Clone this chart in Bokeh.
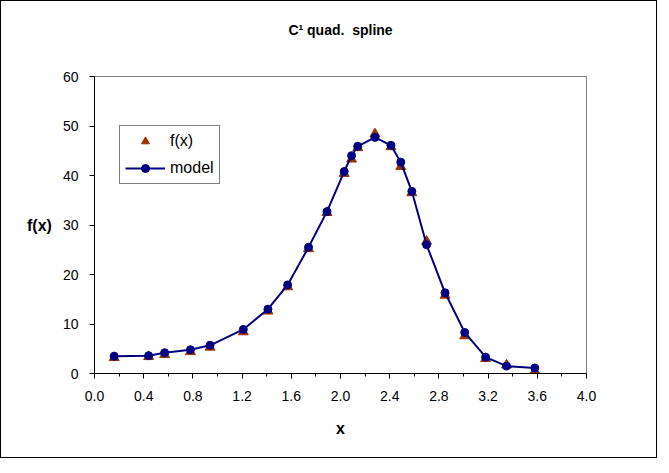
from bokeh.plotting import figure
from bokeh.models import Range1d, FixedTicker, Legend, LegendItem, Title
from bokeh.embed import file_html
from bokeh.resources import INLINE

# data
x_vals = [0.16, 0.44, 0.57, 0.78, 0.94, 1.21, 1.41, 1.57, 1.74, 1.89, 2.03, 2.09,
          2.14, 2.28, 2.41, 2.49, 2.58, 2.70, 2.85, 3.01, 3.18, 3.35, 3.58]
fx_vals = [3.2, 3.4, 3.8, 4.4, 5.3, 8.4, 12.6, 17.5, 25.2, 32.5, 40.4, 43.3,
           45.6, 48.4, 45.8, 41.8, 36.5, 26.7, 15.8, 7.6, 3.0, 1.7, 0.5]
model_vals = [3.5, 3.6, 4.2, 4.8, 5.7, 8.9, 13.0, 17.9, 25.5, 32.7, 40.8, 44.0,
              45.9, 47.7, 46.1, 42.7, 36.8, 26.0, 16.3, 8.3, 3.3, 1.5, 1.1]
x_major = [0.0, 0.4, 0.8, 1.2, 1.6, 2.0, 2.4, 2.8, 3.2, 3.6, 4.0]
x_minor = [0.2, 0.6, 1.0, 1.4, 1.8, 2.2, 2.6, 3.0, 3.4, 3.8]
y_major = [0, 10, 20, 30, 40, 50, 60]
title_text = "C\u00b9 quad.\u00a0 spline"

FONT = "Liberation Sans"

p = figure(width=657, height=458, output_backend="svg", toolbar_location=None,
           x_range=Range1d(0, 4), y_range=Range1d(0, 60),
           min_border_left=93, min_border_right=72, min_border_top=75, min_border_bottom=86)
p.styles = {"border": "1px solid black"}
p.background_fill_color = "white"
p.border_fill_color = "white"
p.outline_line_color = "#808080"
p.outline_line_width = 1
p.grid.visible = False

# invisible spacer keeps the title well above the plot area
spacer = Title(text="\u00a0", text_font_size="20px", text_color="white")
p.add_layout(spacer, "above")
title = Title(text=title_text, align="center", text_font=FONT,
              text_font_size="14px", text_font_style="bold", text_color="black")
p.add_layout(title, "above")

xa = p.xaxis[0]
xa.ticker = FixedTicker(ticks=x_major, minor_ticks=x_minor)
xa.major_label_overrides = {v: f"{v:.1f}" for v in x_major}
xa.axis_label = "x"
ya = p.yaxis[0]
ya.ticker = FixedTicker(ticks=y_major)
ya.axis_label = "f(x)"
ya.axis_label_orientation = "horizontal"

for ax in (xa, ya):
    ax.axis_line_color = "black"
    ax.major_tick_line_color = "black"
    ax.minor_tick_line_color = "black"
    ax.major_tick_in = 0
    ax.major_tick_out = 5
    ax.minor_tick_in = 0
    ax.minor_tick_out = 3
    ax.major_label_text_font = FONT
    ax.major_label_text_font_size = "14px"
    ax.major_label_text_color = "black"
    ax.axis_label_text_font = FONT
    ax.axis_label_text_font_size = "16px"
    ax.axis_label_text_font_style = "bold"
    ax.axis_label_text_color = "black"
ya.minor_tick_line_color = None
xa.major_label_standoff = 12
xa.axis_label_standoff = 16
ya.major_label_standoff = 11
ya.axis_label_standoff = 8

tri = p.scatter(x_vals, fx_vals, marker="triangle", size=10, fill_color="#993300",
                line_color="#993300")
ln = p.line(x_vals, model_vals, line_color="#000080", line_width=2)
dots = p.scatter(x_vals, model_vals, marker="circle", size=8, fill_color="#000080",
                 line_color="#000080")

legend = Legend(items=[LegendItem(label="f(x)", renderers=[tri]),
                       LegendItem(label="model", renderers=[ln, dots])],
                location=(25, 189), orientation="vertical")
legend.label_text_font = FONT
legend.label_text_font_size = "16px"
legend.label_text_color = "black"
legend.border_line_color = "black"
legend.border_line_width = 1
legend.background_fill_color = "white"
legend.background_fill_alpha = 1
legend.glyph_width = 40
legend.glyph_height = 20
legend.label_height = 20
legend.label_standoff = 5
legend.spacing = 7
legend.padding = 5
legend.margin = 0
p.add_layout(legend, "center")

open("out.html", "w").write(file_html(p, INLINE))
